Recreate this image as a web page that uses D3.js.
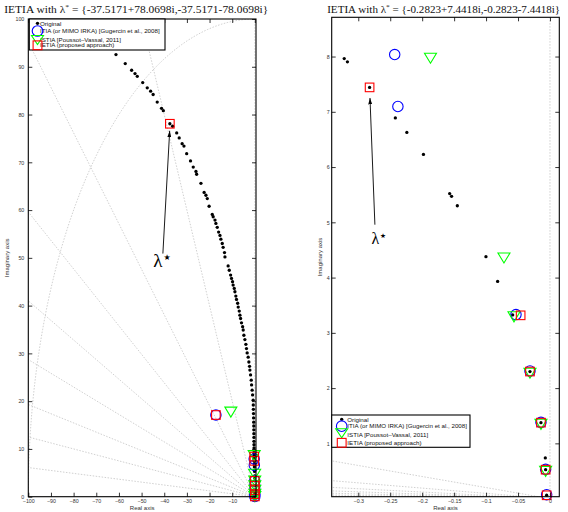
<!DOCTYPE html>
<html>
<head>
<meta charset="utf-8">
<script src="https://cdn.jsdelivr.net/npm/d3@7.9.0/dist/d3.min.js"></script>
<style>
  body { margin: 0; background: #fff; }
  svg { display: block; }
</style>
</head>
<body>
<svg id="chart" width="568" height="512" font-family="'Liberation Sans', Arial, sans-serif"></svg>
<script>
// ------------------------------------------------------------
// Data
// ------------------------------------------------------------

// poles of the original model, [real, imag]
const origPoles = [
  [-61.3, 92.55], [-57.2, 90.67], [-54.4, 89.27], [-52.9, 88.57], [-51.9, 88.0],
  [-49.5, 86.7], [-47.5, 85.6], [-46.0, 84.9], [-44.9, 84.2], [-43.1, 82.6],
  [-41.2, 81.3], [-40.4, 80.8], [-37.5171, 78.0698], [-36.3, 77.55], [-34.5, 76.15],
  [-33.4, 75.1], [-32.1, 73.9], [-31.3, 73.4], [-30.1, 71.8], [-28.4, 70.3],
  [-27.2, 69.0], [-26.0, 68.1], [-25.7, 67.5], [-23.8, 65.6], [-22.4, 63.7],
  [-21.6, 63.1], [-21.0, 62.4], [-20.2, 60.8], [-18.8, 59.1], [-18.4, 58.6],
  [-17.6, 57.9], [-17.2, 57.2], [-16.6, 56.4], [-16.0, 55.4], [-15.4, 54.7],
  [-15.0, 53.9], [-14.4, 53.0], [-14.0, 52.2], [-13.4, 51.1], [-13.2, 50.2],
  [-11.8, 48.3], [-11.3, 47.4], [-10.7, 46.4], [-10.3, 45.7], [-9.85, 45.0],
  [-9.6, 44.3], [-9.1, 43.6], [-8.8, 42.9], [-8.4, 42.0], [-8.1, 41.3],
  [-7.6, 40.5], [-7.35, 39.7], [-6.9, 38.85], [-6.6, 38.0], [-6.3, 37.3],
  [-5.9, 36.4], [-5.4, 35.6], [-5.15, 34.9], [-4.85, 33.8], [-4.4, 32.9],
  [-3.97, 31.9], [-3.7, 31.0], [-3.4, 30.1], [-2.95, 29.2], [-2.65, 28.2],
  [-2.35, 27.3], [-2.2, 26.5], [-1.9, 25.5], [-1.6, 24.4], [-1.45, 23.4],
  [-1.2, 22.3], [-1.0, 21.3], [-0.75, 20.2], [-0.7, 19.2], [-0.65, 18.3],
  [-0.6, 17.4], [-0.56, 16.5], [-0.52, 15.6], [-0.49, 14.8], [-0.46, 14.0],
  [-0.44, 13.2], [-0.42, 12.4], [-0.4, 11.6], [-0.39, 10.9], [-0.37, 10.2],
  [-0.36, 9.6], [-0.35, 9.1], [-0.345, 8.7],
  [-0.322, 7.964], [-0.317, 7.904], [-0.2823, 7.4418], [-0.242, 6.89], [-0.224, 6.626],
  [-0.198, 6.228], [-0.157, 5.52], [-0.154, 5.47], [-0.145, 5.30], [-0.1002, 4.378],
  [-0.0819, 3.93], [-0.0584, 3.324], [-0.0313, 2.30], [-0.0141, 1.375], [-0.0073, 0.736],
  [-0.0068, 0.524], [-0.0052, 0.061]
];

// reduced models, left panel (lambda* = -37.5171 + 78.0698i)
const leftItia = [[-17.2, 17.1], [-0.3, 7.9], [-0.24, 6.6], [-0.058, 3.32], [-0.031, 2.3], [-0.014, 1.375], [-0.007, 0.524], [-0.005, 0.061]];
const leftIstia = [[-10.6, 17.7], [-0.3, 8.6], [-0.1, 4.7], [-0.058, 3.29], [-0.031, 2.27], [-0.014, 1.345], [-0.007, 0.494], [-0.005, 0.031]];
const leftIetia = [[-37.5171, 78.0698], [-17.2, 17.1], [-0.3, 8.4], [-0.25, 7.5], [-0.058, 3.32], [-0.031, 2.3], [-0.014, 1.375], [-0.007, 0.524], [-0.005, 0.061]];

// reduced models, right panel (lambda* = -0.2823 + 7.4418i)
const rightItia = [[-0.243, 8.036], [-0.238, 7.096], [-0.0532, 3.33], [-0.0313, 2.31], [-0.0141, 1.38], [-0.0068, 0.53], [-0.0052, 0.07]];
const rightIstia = [[-0.187, 7.97], [-0.072, 4.354], [-0.0563, 3.29], [-0.0313, 2.27], [-0.0141, 1.345], [-0.0068, 0.494], [-0.0052, 0.031]];
const rightIetia = [[-0.2823, 7.4418], [-0.0459, 3.317], [-0.0313, 2.30], [-0.0141, 1.375], [-0.0068, 0.524], [-0.0052, 0.061]];

// grid: constant damping lines (imag/|real| slopes) and natural frequency circles
const dampingSlopes = [2.0, 0.952, 0.596, 0.41, 0.287, 0.193, 0.125, 0.061];
const leftWnCircles = [100];
const rightWnCircles = [];

const legendLabels = [
  "Original",
  "ITIA (or MIMO IRKA) [Gugercin et al., 2008]",
  "ISTIA [Poussot\u2013Vassal, 2011]",
  "IETIA (proposed approach)"
];

const leftXTicks = [-100, -90, -80, -70, -60, -50, -40, -30, -20, -10, 0];
const leftXLabels = [-100, -90, -80, -70, -60, -50, -40, -30, -20, -10];
const leftYTicks = [0, 10, 20, 30, 40, 50, 60, 70, 80, 90, 100];
const rightXTicks = [-0.3, -0.25, -0.2, -0.15, -0.1, -0.05, 0];
const rightYTicks = [1, 2, 3, 4, 5, 6, 7, 8];

const leftLambda = "{-37.5171+78.0698i,-37.5171-78.0698i}";
const rightLambda = "{-0.2823+7.4418i,-0.2823-7.4418i}";

// ------------------------------------------------------------
// Drawing
// ------------------------------------------------------------
const svg = d3.select("#chart");
const serif = "'Liberation Serif', 'DejaVu Serif', serif";

svg.append("defs").append("marker")
  .attr("id", "arrow")
  .attr("markerUnits", "userSpaceOnUse")
  .attr("markerWidth", 7).attr("markerHeight", 4)
  .attr("refX", 6.5).attr("refY", 2)
  .attr("orient", "auto")
  .append("path")
  .attr("d", "M0,0 L6.5,2 L0,4 Z")
  .attr("fill", "#000");

const minus = s => s.replace(/-/g, "\u2212");

function drawPanel(p) {
  const x = d3.scaleLinear().domain(p.xDomain).range([p.left, p.right]);
  const y = d3.scaleLinear().domain(p.yDomain).range([p.bottom, p.top]);
  const g = svg.append("g");

  g.append("clipPath").attr("id", p.id + "-clip")
    .append("rect")
    .attr("x", p.left).attr("y", p.top)
    .attr("width", p.right - p.left).attr("height", p.bottom - p.top);

  // grid lines
  const grid = g.append("g")
    .attr("clip-path", `url(#${p.id}-clip)`)
    .attr("fill", "none")
    .attr("stroke", "#bcbcbc")
    .attr("stroke-width", 0.7)
    .attr("stroke-dasharray", "1.5,1.5");

  const far = p.xDomain[0] * 4;
  grid.selectAll(".zeta")
    .data(dampingSlopes)
    .enter().append("line")
    .attr("x1", x(0)).attr("y1", y(0))
    .attr("x2", x(far)).attr("y2", s => y(-far * s));

  grid.append("line")
    .attr("x1", x(0)).attr("y1", y(0))
    .attr("x2", x(0)).attr("y2", p.top - 5);

  const angles = d3.range(90, 180.5, 0.5).map(a => a * Math.PI / 180);
  grid.selectAll(".wn")
    .data(p.circles)
    .enter().append("path")
    .attr("d", r => d3.line()(angles.map(t => [x(r * Math.cos(t)), y(r * Math.sin(t))])));

  const inside = d => d[0] >= p.xDomain[0] && d[0] <= p.xDomain[1] && d[1] >= p.yDomain[0] && d[1] <= p.yDomain[1];

  // arrow to lambda*
  g.append("line")
    .attr("x1", x(p.arrow[0][0])).attr("y1", y(p.arrow[0][1]))
    .attr("x2", x(p.arrow[1][0])).attr("y2", y(p.arrow[1][1]))
    .attr("stroke", "#000").attr("stroke-width", 0.9)
    .attr("marker-end", "url(#arrow)");

  const lab = g.append("text")
    .attr("x", x(p.lambdaLabel[0])).attr("y", y(p.lambdaLabel[1]))
    .attr("font-family", serif)
    .attr("font-size", p.lambdaSize)
    .text("\u03bb");
  lab.append("tspan")
    .attr("font-family", "'DejaVu Sans', sans-serif")
    .attr("font-size", p.lambdaSize * 0.42)
    .attr("dx", 0.8)
    .attr("dy", -p.lambdaSize * 0.4)
    .text("\u2605");

  // original poles
  g.selectAll(".orig")
    .data(origPoles.filter(inside))
    .enter().append("circle")
    .attr("cx", d => x(d[0])).attr("cy", d => y(d[1]))
    .attr("r", 1.65).attr("fill", "#000");

  // ITIA circles
  g.selectAll(".itia")
    .data(p.itia.filter(inside))
    .enter().append("circle")
    .attr("cx", d => x(d[0])).attr("cy", d => y(d[1]))
    .attr("r", 5.2)
    .attr("fill", "none").attr("stroke", "#0000ff").attr("stroke-width", 1.1);

  // ISTIA triangles
  const tri = (w, h) => `M${-w / 2},${-h / 2} L${w / 2},${-h / 2} L0,${h / 2} Z`;
  g.selectAll(".istia")
    .data(p.istia.filter(inside))
    .enter().append("path")
    .attr("transform", d => `translate(${x(d[0])},${y(d[1])})`)
    .attr("d", tri(12, 10))
    .attr("fill", "none").attr("stroke", "#00ff00").attr("stroke-width", 1.1);

  // IETIA squares
  g.selectAll(".ietia")
    .data(p.ietia.filter(inside))
    .enter().append("rect")
    .attr("x", d => x(d[0]) - 4.3).attr("y", d => y(d[1]) - 4.3)
    .attr("width", 8.6).attr("height", 8.6)
    .attr("fill", "none").attr("stroke", "#ff0000").attr("stroke-width", 1.1);

  // axes (inward ticks on all four sides)
  const styleAxis = sel => {
    sel.attr("font-family", null).attr("font-size", null);
    sel.select(".domain").remove();
    sel.selectAll("line").attr("stroke", "#000").attr("stroke-width", 0.8);
    sel.selectAll("text")
      .attr("font-size", 5.3)
      .attr("fill", "#333");
  };
  const xFmt = d => p.xLabels.includes(d) ? minus(String(d)) : "";

  g.append("g").attr("transform", `translate(0,${p.bottom})`)
    .call(d3.axisBottom(x).tickValues(p.xTicks).tickSize(-4).tickPadding(3).tickFormat(xFmt))
    .call(styleAxis);
  g.append("g").attr("transform", `translate(0,${p.top})`)
    .call(d3.axisTop(x).tickValues(p.xTicks).tickSize(-4).tickFormat(""))
    .call(styleAxis);
  g.append("g").attr("transform", `translate(${p.left},0)`)
    .call(d3.axisLeft(y).tickValues(p.yTicks).tickSize(-4).tickPadding(p.yPad).tickFormat(d => String(d)))
    .call(styleAxis);
  g.append("g").attr("transform", `translate(${p.right},0)`)
    .call(d3.axisRight(y).tickValues(p.yTicks).tickSize(-4).tickFormat(""))
    .call(styleAxis);

  g.append("rect")
    .attr("x", p.left).attr("y", p.top)
    .attr("width", p.right - p.left).attr("height", p.bottom - p.top)
    .attr("fill", "none").attr("stroke", "#000").attr("stroke-width", 1.1);

  // axis labels
  g.append("text")
    .attr("x", (p.left + p.right) / 2).attr("y", 509.5)
    .attr("text-anchor", "middle").attr("font-size", 6).attr("fill", "#333")
    .text("Real axis");
  g.append("text")
    .attr("transform", `translate(${p.ylabelX},${(p.top + p.bottom) / 2}) rotate(-90)`)
    .attr("text-anchor", "middle").attr("font-size", 6).attr("fill", "#333")
    .text("Imaginary axis");

  // title
  const t = g.append("text")
    .attr("x", p.titleX).attr("y", 12.5)
    .attr("text-anchor", "middle")
    .attr("font-family", serif)
    .attr("font-size", 10.5)
    .attr("fill", "#111")
    .attr("textLength", p.titleW).attr("lengthAdjust", "spacingAndGlyphs");
  t.append("tspan").text("IETIA with \u03bb");
  t.append("tspan").attr("font-size", 7).attr("dy", -4).text("*");
  t.append("tspan").attr("dy", 4).text(" = " + p.lambdaText);

  // legend
  const L = p.legend;
  const lg = g.append("g");
  lg.append("rect")
    .attr("x", L.x).attr("y", L.y).attr("width", L.w).attr("height", L.h)
    .attr("fill", "#fff").attr("stroke", "#000").attr("stroke-width", 1.1);
  lg.selectAll(".lt")
    .data(legendLabels)
    .enter().append("text")
    .attr("x", L.textX).attr("y", (d, i) => L.textY[i])
    .attr("dy", "0.36em")
    .attr("font-size", 6.2).attr("fill", "#111")
    .text(d => d);
  lg.append("circle").attr("cx", L.markX).attr("cy", L.markY[0]).attr("r", 1.65).attr("fill", "#000");
  lg.append("circle").attr("cx", L.markX).attr("cy", L.markY[1]).attr("r", 5.3)
    .attr("fill", "none").attr("stroke", "#0000ff").attr("stroke-width", 1.1);
  lg.append("path").attr("transform", `translate(${L.markX},${L.markY[2]})`).attr("d", tri(12, 9))
    .attr("fill", "none").attr("stroke", "#00ff00").attr("stroke-width", 1.1);
  lg.append("rect").attr("x", L.markX - 4.4).attr("y", L.markY[3] - 4.4).attr("width", 8.8).attr("height", 8.8)
    .attr("fill", "none").attr("stroke", "#ff0000").attr("stroke-width", 1.1);
}

drawPanel({
  id: "left",
  left: 28.3, right: 256, top: 19, bottom: 496.7,
  xDomain: [-100, 0.5], yDomain: [0, 100],
  xTicks: leftXTicks, xLabels: leftXLabels, yTicks: leftYTicks, yPad: 4,
  circles: leftWnCircles,
  itia: leftItia, istia: leftIstia, ietia: leftIetia,
  arrow: [[-40.6, 50.9], [-37.6, 76.6]],
  lambdaLabel: [-44.8, 48.0], lambdaSize: 19,
  ylabelX: 9,
  titleX: 136.3, titleW: 264, lambdaText: leftLambda,
  legend: { x: 29.3, y: 19, w: 135.7, h: 31, markX: 37.5, textX: 40,
            markY: [23.3, 31, 40, 45.3], textY: [23.3, 30.7, 39.3, 45] }
});

drawPanel({
  id: "right",
  left: 331.7, right: 559.3, top: 17.3, bottom: 496.7,
  xDomain: [-0.3416, 0.0146], yDomain: [0.035, 8.71],
  xTicks: rightXTicks, xLabels: rightXTicks, yTicks: rightYTicks, yPad: 2,
  circles: rightWnCircles,
  itia: rightItia, istia: rightIstia, ietia: rightIetia,
  arrow: [[-0.274, 4.957], [-0.2817, 7.25]],
  lambdaLabel: [-0.2795, 4.6], lambdaSize: 16,
  ylabelX: 322,
  titleX: 443.7, titleW: 233, lambdaText: rightLambda,
  legend: { x: 331.7, y: 415, w: 138.3, h: 32.3, markX: 341.7, textX: 347.3,
            markY: [419.3, 426.2, 433.2, 442.8], textY: [419.3, 426, 434.3, 442.7] }
});
</script>
</body>
</html>
